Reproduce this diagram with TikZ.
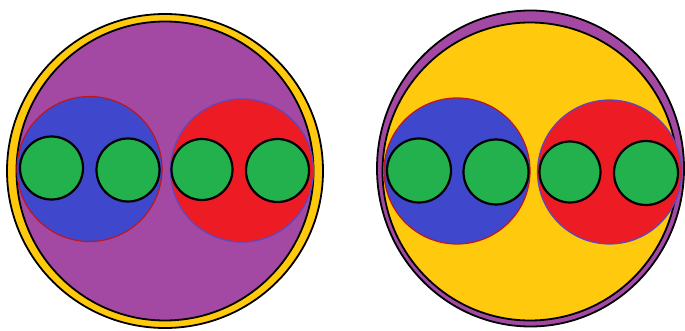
\documentclass[tikz,border=0pt]{standalone}
\definecolor{ppurple}{HTML}{A349A4}
\definecolor{pyellow}{HTML}{FFC90E}
\definecolor{pblue}{HTML}{3F48CC}
\definecolor{pred}{HTML}{ED1C24}
\definecolor{pgreen}{HTML}{22B14C}
\tikzset{
  ring/.style={draw=black, line width=1.8pt},
  bigblue/.style={fill=pblue, draw=pred!80!black, line width=1.2pt},
  bigred/.style={fill=pred, draw=pblue!70!ppurple, line width=1.2pt},
  seed/.style={fill=pgreen, draw=black, line width=2.2pt}
}
\begin{document}
\begin{tikzpicture}[x=1pt,y=-1pt]
\useasboundingbox (0,0) rectangle (685,331);
% left figure
\filldraw[ring, fill=pyellow] (165,171) ellipse [x radius=158, y radius=157];
\filldraw[ring, fill=ppurple] (165,171) ellipse [x radius=148.5, y radius=149.5];
\filldraw[bigblue] (89.5,169) circle [radius=72.5];
\filldraw[bigred] (242,170.5) circle [radius=71.5];
\filldraw[seed] (51.5,168) circle [radius=31.5];
\filldraw[seed] (128,170) circle [radius=31.5];
\filldraw[seed] (202,169.5) circle [radius=30.5];
\filldraw[seed] (277.5,170.5) circle [radius=31.5];
% right figure
\filldraw[ring, fill=ppurple] (530.5,168.5) ellipse [x radius=153.5, y radius=158];
\filldraw[ring, fill=pyellow] (530,171.5) ellipse [x radius=147.5, y radius=149];
\filldraw[bigblue] (457,171) circle [radius=73];
\filldraw[bigred] (609.5,172) circle [radius=72];
\filldraw[seed] (419,170.5) circle [radius=32];
\filldraw[seed] (496,172) circle [radius=32.5];
\filldraw[seed] (570,172) circle [radius=30.5];
\filldraw[seed] (646,173) circle [radius=32];
\end{tikzpicture}
\end{document}
